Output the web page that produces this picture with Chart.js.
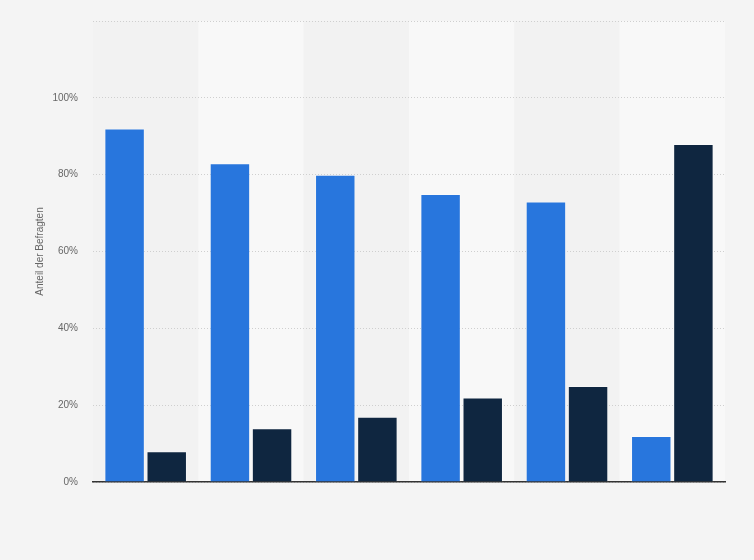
<!DOCTYPE html>
<html><head><meta charset="utf-8">
<script src="https://cdn.jsdelivr.net/npm/chart.js@4"></script>
<style>html,body{margin:0;padding:0;background:#f4f4f4;}#wrap{width:754px;height:560px;}</style>
</head><body><div id="wrap"><canvas id="c" width="754" height="560"></canvas></div>
<script>
const categories = ["", "", "", "", "", ""];
const seriesBlue = [92, 83, 80, 75, 73, 12];
const seriesDark = [8, 14, 17, 22, 25, 88];
const yTicks = [0, 20, 40, 60, 80, 100, 120];

const bandPlugin = {
  id: 'bands',
  beforeDraw(chart) {
    const {ctx, width, height, chartArea, scales} = chart;
    ctx.save();
    ctx.fillStyle = '#f4f4f4';
    ctx.fillRect(0, 0, width, height);
    const xs = scales.x;
    const n = categories.length;
    const w = (chartArea.right - chartArea.left) / n;
    for (let i = 0; i < n; i++) {
      const cx = xs.getPixelForValue(i);
      ctx.fillStyle = i % 2 === 0 ? '#f2f2f2' : '#f8f8f8';
      ctx.fillRect(cx - w / 2, chartArea.top, w, chartArea.bottom - chartArea.top);
    }
    ctx.restore();
  }
};

new Chart(document.getElementById('c'), {
  type: 'bar',
  data: {
    labels: categories,
    datasets: [
      {data: seriesBlue, backgroundColor: '#2876dd', borderColor: 'rgba(255,255,255,0.3)', borderWidth: 1, borderSkipped: 'bottom'},
      {data: seriesDark, backgroundColor: '#0f2640', borderColor: 'rgba(255,255,255,0.3)', borderWidth: 1, borderSkipped: 'bottom'}
    ]
  },
  options: {
    responsive: false,
    animation: false,
    layout: {padding: {left: 34, right: 29, top: 15, bottom: 78}},
    datasets: {bar: {categoryPercentage: 0.8, barPercentage: 0.96}},
    plugins: {legend: {display: false}, tooltip: {enabled: false}},
    scales: {
      x: {
        grid: {display: false, drawTicks: false},
        ticks: {display: false},
        border: {display: true, color: '#333333', width: 1.5}
      },
      y: {
        min: 0, max: 120,
        afterBuildTicks(scale) { scale.ticks = yTicks.map(v => ({value: v})); },
        afterFit(scale) { scale.width = 59; },
        grid: {color: '#cfcfcf', lineWidth: 1, drawTicks: false},
        border: {display: false, dash: [1, 2]},
        ticks: {
          padding: 15,
          color: '#666666',
          font: {family: 'Liberation Sans, Arial, sans-serif', size: 10},
          callback: v => v === 120 ? '' : v + '%'
        },
        title: {
          display: true,
          text: 'Anteil der Befragten',
          color: '#666666',
          font: {family: 'Liberation Sans, Arial, sans-serif', size: 10},
          padding: 0
        }
      }
    }
  },
  plugins: [bandPlugin]
});
</script></body></html>
